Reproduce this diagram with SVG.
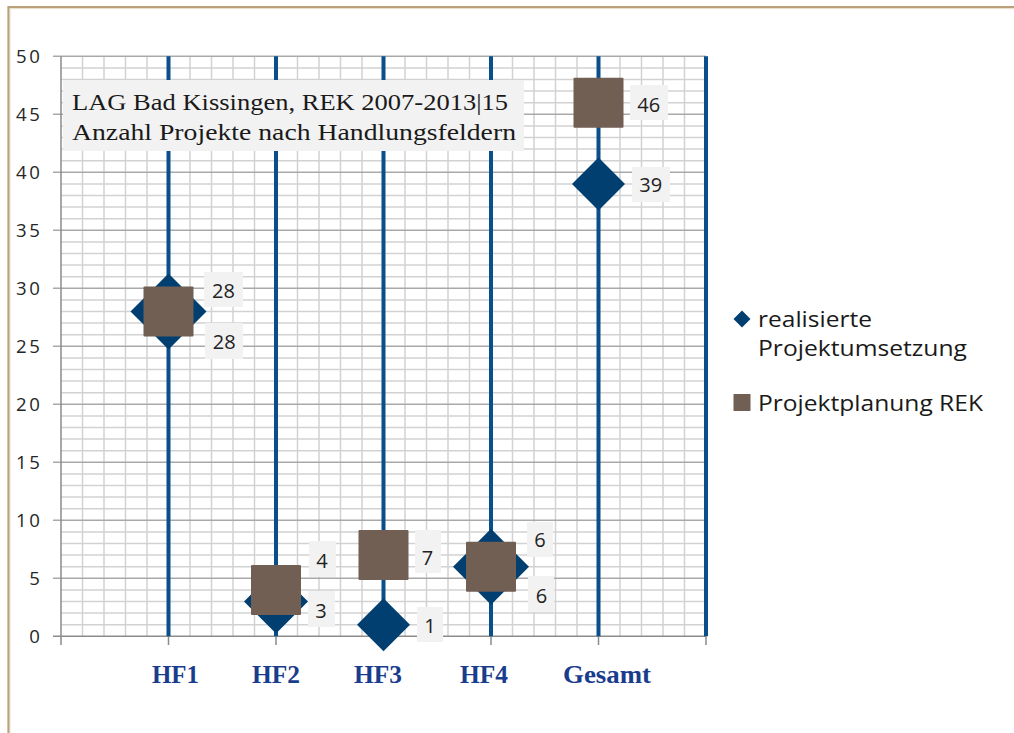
<svg xmlns="http://www.w3.org/2000/svg" width="1014" height="733" viewBox="0 0 1014 733">
<style>
.minor{stroke:#d2d2d2;stroke-width:1.5;fill:none}
.major{stroke:#a9a9a9;stroke-width:1.5;fill:none}
.axis{stroke:#8c8c8c;stroke-width:1.5;fill:none}
.blue{stroke:#0a4f8c;stroke-width:4;fill:none}
.dia{fill:#003f70}
.sq{fill:#725f54}
.lblbox{fill:#f2f2f2}
.lbl{font-family:"Open Sans","Liberation Sans",sans-serif;font-size:20px;fill:#222;text-anchor:middle}
.ytick{font-family:"Open Sans","Liberation Sans",sans-serif;font-size:18.6px;fill:#262626;text-anchor:end}
.xcat{font-family:"Liberation Serif",serif;font-size:25px;font-weight:bold;fill:#1a3c8c}
.title{font-family:"Liberation Serif",serif;font-size:23.5px;fill:#1a1a1a}
.leg{font-family:"Open Sans","Liberation Sans",sans-serif;font-size:22px;fill:#1a1a1a}
</style>
<rect width="1014" height="733" fill="#ffffff"/>
<path d="M8.5,733 V7 H1014" stroke="#bca07a" stroke-width="2.2" fill="none"/>
<path d="M10,733 V8.6 H1014" stroke="#e2d4bd" stroke-width="0.8" fill="none"/>

<g id="grid">
<path class="minor" d="M82.5,56.3V636.3M104,56.3V636.3M125.5,56.3V636.3M147,56.3V636.3M190,56.3V636.3M211.5,56.3V636.3M233,56.3V636.3M254.5,56.3V636.3M297.5,56.3V636.3M319,56.3V636.3M340.5,56.3V636.3M362,56.3V636.3M405,56.3V636.3M426.5,56.3V636.3M448,56.3V636.3M469.5,56.3V636.3M512.5,56.3V636.3M534,56.3V636.3M555.5,56.3V636.3M577,56.3V636.3M620,56.3V636.3M641.5,56.3V636.3M663,56.3V636.3M684.5,56.3V636.3"/>
<path class="minor" d="M61,624.7H706M61,613.1H706M61,601.5H706M61,589.9H706M61,566.7H706M61,555.1H706M61,543.5H706M61,531.9H706M61,508.7H706M61,497.1H706M61,485.5H706M61,473.9H706M61,450.7H706M61,439.1H706M61,427.5H706M61,415.9H706M61,392.7H706M61,381.1H706M61,369.5H706M61,357.9H706M61,334.7H706M61,323.1H706M61,311.5H706M61,299.9H706M61,276.7H706M61,265.1H706M61,253.5H706M61,241.9H706M61,218.7H706M61,207.1H706M61,195.5H706M61,183.9H706M61,160.7H706M61,149.1H706M61,137.5H706M61,125.9H706M61,102.7H706M61,91.1H706M61,79.5H706M61,67.9H706"/>
<path class="major" d="M53,578.3H706M53,520.3H706M53,462.3H706M53,404.3H706M53,346.3H706M53,288.3H706M53,230.3H706M53,172.3H706M53,114.3H706M53,56.3H706"/>
<path class="axis" d="M61,56.3V636.3M53,636.3H706M61,636.3V645M168.5,636.3V645M276,636.3V645M383.5,636.3V645M491,636.3V645M598.5,636.3V645M706,636.3V645"/>
</g>

<g id="connectors">
<path class="blue" d="M168.5,56.3V636.3M276,56.3V636.3M383.5,56.3V636.3M491,56.3V636.3M598.5,56.3V636.3M706,56.3V636.3"/>
</g>

<g id="title">
<rect x="63" y="80" width="461" height="71" fill="#f2f2f2"/>
<text class="title" x="72" y="110" textLength="436" lengthAdjust="spacingAndGlyphs">LAG Bad Kissingen, REK 2007-2013|15</text>
<text class="title" x="72" y="139.5" textLength="444" lengthAdjust="spacingAndGlyphs">Anzahl Projekte nach Handlungsfeldern</text>
</g>

<g id="y-axis">
<text class="ytick" x="40" y="63.3" textLength="24">50</text>
<text class="ytick" x="40" y="121.3" textLength="24">45</text>
<text class="ytick" x="40" y="179.3" textLength="24">40</text>
<text class="ytick" x="40" y="237.3" textLength="24">35</text>
<text class="ytick" x="40" y="295.3" textLength="24">30</text>
<text class="ytick" x="40" y="353.3" textLength="24">25</text>
<text class="ytick" x="40" y="411.3" textLength="24">20</text>
<text class="ytick" x="40" y="469.3" textLength="24">15</text>
<text class="ytick" x="40" y="527.3" textLength="24">10</text>
<text class="ytick" x="40" y="585.3">5</text>
<text class="ytick" x="40" y="643.3">0</text>
</g>

<g id="x-axis">
<text class="xcat" x="152" y="683" textLength="47" lengthAdjust="spacingAndGlyphs">HF1</text>
<text class="xcat" x="252" y="683" textLength="48" lengthAdjust="spacingAndGlyphs">HF2</text>
<text class="xcat" x="354" y="683" textLength="48" lengthAdjust="spacingAndGlyphs">HF3</text>
<text class="xcat" x="460" y="683" textLength="48" lengthAdjust="spacingAndGlyphs">HF4</text>
<text class="xcat" x="563" y="683" textLength="88" lengthAdjust="spacingAndGlyphs">Gesamt</text>
</g>

<g id="hf1">
<polygon class="dia" points="168.5,273.5 206.5,311.5 168.5,349.5 130.5,311.5"/>
<rect class="sq" x="143.5" y="286.5" width="50" height="50" rx="1"/>
<rect class="lblbox" x="204" y="272" width="39" height="35"/>
<text class="lbl" x="223.5" y="298">28</text>
<rect class="lblbox" x="205" y="323" width="38" height="36"/>
<text class="lbl" x="224.3" y="349">28</text>
</g>

<g id="hf2">
<polygon class="dia" points="276,569.5 308,601.5 276,633.5 244,601.5"/>
<rect class="sq" x="251" y="564.9" width="50" height="50" rx="1"/>
<rect class="lblbox" x="309" y="541" width="27" height="36"/>
<text class="lbl" x="322" y="567.7">4</text>
<rect class="lblbox" x="308" y="591" width="27" height="36"/>
<text class="lbl" x="321" y="617.7">3</text>
</g>

<g id="hf3">
<polygon class="dia" points="383.5,598.2 410,624.7 383.5,651.2 357,624.7"/>
<rect class="sq" x="358.5" y="530.1" width="50" height="50" rx="1"/>
<rect class="lblbox" x="415" y="530" width="26" height="43"/>
<text class="lbl" x="427.5" y="565">7</text>
<rect class="lblbox" x="417" y="607" width="26" height="35"/>
<text class="lbl" x="430" y="633.3">1</text>
</g>

<g id="hf4">
<polygon class="dia" points="491,528.7 529,566.7 491,604.7 453,566.7"/>
<rect class="sq" x="466" y="541.7" width="50" height="50" rx="1"/>
<rect class="lblbox" x="527" y="522" width="26" height="35"/>
<text class="lbl" x="540" y="547.3">6</text>
<rect class="lblbox" x="528" y="576" width="26" height="36"/>
<text class="lbl" x="541.5" y="602.7">6</text>
</g>

<g id="gesamt">
<polygon class="dia" points="598.5,157.4 625,183.9 598.5,210.4 572,183.9"/>
<rect class="sq" x="573.5" y="77.7" width="50" height="50" rx="1"/>
<rect class="lblbox" x="630" y="85" width="38" height="35"/>
<text class="lbl" x="648.7" y="111.7">46</text>
<rect class="lblbox" x="632" y="167" width="38" height="35"/>
<text class="lbl" x="650.7" y="192.3">39</text>
</g>

<g id="legend">
<polygon class="dia" points="742,310.5 750.5,319 742,327.5 733.5,319"/>
<text class="leg" x="758" y="327.3" textLength="114" lengthAdjust="spacingAndGlyphs">realisierte</text>
<text class="leg" x="758" y="355.5" textLength="209" lengthAdjust="spacingAndGlyphs">Projektumsetzung</text>
<rect class="sq" x="733.5" y="394" width="17" height="17"/>
<text class="leg" x="758" y="410.7" textLength="225" lengthAdjust="spacingAndGlyphs">Projektplanung REK</text>
</g>
</svg>
